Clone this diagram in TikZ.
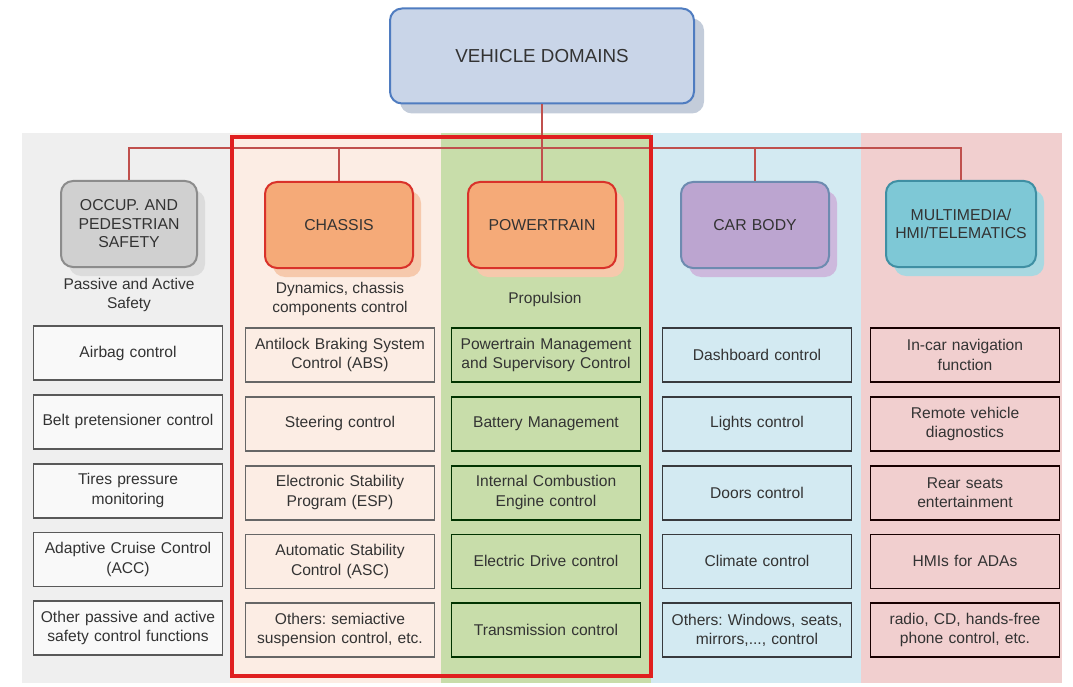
\documentclass[tikz,border=0pt]{standalone}
\usepackage{fontspec}
\setmainfont{Liberation Sans}
\frenchspacing
\usetikzlibrary{positioning, shadows}
\definecolor{ink}{HTML}{333333}
\definecolor{rootfill}{HTML}{C9D5E8}
\definecolor{rootdraw}{HTML}{4F7CC0}
\definecolor{rootshade}{HTML}{C3CCDA}
\definecolor{linkred}{HTML}{C0504D}
\definecolor{framered}{HTML}{E01F1F}
\definecolor{bgsafe}{HTML}{EFEFEF}
\definecolor{bgchas}{HTML}{FCEDE4}
\definecolor{bgpwt}{HTML}{C8DDAA}
\definecolor{bgbody}{HTML}{D3EAF2}
\definecolor{bgmm}{HTML}{F1CFCF}
\definecolor{grayfill}{HTML}{D0D0D0}
\definecolor{graydraw}{HTML}{8C8C8C}
\definecolor{grayshade}{HTML}{DCDCDC}
\definecolor{orgfill}{HTML}{F5AA78}
\definecolor{orgdraw}{HTML}{D9322A}
\definecolor{orgshade}{HTML}{F6C9AC}
\definecolor{purfill}{HTML}{BCA5D0}
\definecolor{purdraw}{HTML}{6D8BB0}
\definecolor{purshade}{HTML}{CDB9DD}
\definecolor{tealfill}{HTML}{7EC8D6}
\definecolor{tealdraw}{HTML}{3F8FA3}
\definecolor{tealshade}{HTML}{A9D8E1}
\tikzset{
  root/.style   ={draw=rootdraw, line width=2pt, rounded corners=12pt, fill=rootfill,
                  minimum width=304pt, minimum height=95pt, text=ink,
                  font=\fontsize{18.8}{22}\selectfont,
                  general shadow={fill=rootshade, shadow xshift=10pt, shadow yshift=-10pt}},
  head/.style   ={line width=2pt, rounded corners=12pt, minimum width=148pt,
                  minimum height=86pt, text width=144pt, align=center, text=ink,
                  inner sep=2pt, font=\fontsize{15.8}{18.5}\selectfont},
  headg/.style  ={head, fill=grayfill, draw=graydraw, minimum width=136pt, text width=132pt,
                  general shadow={fill=grayshade, shadow xshift=8pt, shadow yshift=-9pt}},
  heado/.style  ={head, fill=orgfill, draw=orgdraw,
                  general shadow={fill=orgshade, shadow xshift=8pt, shadow yshift=-9pt}},
  headp/.style  ={head, fill=purfill, draw=purdraw, minimum width=143pt,
                  general shadow={fill=purshade, shadow xshift=8pt, shadow yshift=-9pt}},
  headt/.style  ={head, fill=tealfill, draw=tealdraw, minimum width=150pt,
                  general shadow={fill=tealshade, shadow xshift=8pt, shadow yshift=-9pt}},
  sub/.style    ={align=center, text=ink, font=\fontsize{15.5}{18.5}\selectfont},
  item/.style   ={draw, line width=1.8pt, minimum width=189pt, minimum height=54pt,
                  text width=185pt, align=center, inner sep=2pt, text=ink,
                  font=\fontsize{15.6}{19.5}\selectfont},
  itms/.style   ={item, fill=white!60!bgsafe, draw=black!65},
  itmc/.style   ={item, fill=bgchas, draw=black!60},
  itmp/.style   ={item, fill=bgpwt, draw=black!50!green!40!black},
  itmb/.style   ={item, fill=bgbody, draw=black!55!cyan!30!black},
  itmm/.style   ={item, fill=bgmm, draw=black!55!red!20!black},
  link/.style   ={draw=linkred, line width=2pt}
}

\begin{document}
\begin{tikzpicture}[x=1pt, y=-1pt, node distance=13pt]
  \useasboundingbox (0,0) rectangle (1073,687);

  % column bands
  \fill[bgsafe] (22,133) rectangle (230,683);
  \fill[bgchas] (230,133) rectangle (441,683);
  \fill[bgpwt]  (441,133) rectangle (651,683);
  \fill[bgbody] (651,133) rectangle (861,683);
  \fill[bgmm]   (861,133) rectangle (1062,683);

  \node[root] (top) at (542,56) {VEHICLE DOMAINS};

  \node[headg] (occ) at (129,224) {OCCUP. AND\\PEDESTRIAN\\SAFETY};
  \node[heado] (chs) at (339,225) {CHASSIS};
  \node[heado] (pwt) at (542,225) {POWERTRAIN};
  \node[headp] (car) at (755,225) {CAR BODY};
  \node[headt] (mm)  at (961,224) {MULTIMEDIA/\\HMI/TELEMATICS};

  \node[sub] (occsub) at (129,295) {Passive and Active\\Safety};
  \node[sub] (chssub) at (340,299) {Dynamics, chassis\\components control};
  \node[sub] (pwtsub) at (545,299) {Propulsion};

  % safety
  \node[itms] (s1) at (128,353) {Airbag control};
  \node[itms, below=of s1] (s2) {Belt pretensioner control};
  \node[itms, below=of s2] (s3) {Tires pressure\\monitoring};
  \node[itms, below=of s3] (s4) {Adaptive Cruise Control\\(ACC)};
  \node[itms, below=of s4] (s5) {Other passive and active\\safety control functions};

  % chassis
  \node[itmc] (c1) at (340,355) {Antilock Braking System\\Control (ABS)};
  \node[itmc, below=of c1] (c2) {Steering control};
  \node[itmc, below=of c2] (c3) {Electronic Stability\\Program (ESP)};
  \node[itmc, below=of c3] (c4) {Automatic Stability\\Control (ASC)};
  \node[itmc, below=of c4] (c5) {Others: semiactive\\suspension control, etc.};

  % powertrain
  \node[itmp] (p1) at (546,355) {Powertrain Management\\and Supervisory Control};
  \node[itmp, below=of p1] (p2) {Battery Management};
  \node[itmp, below=of p2] (p3) {Internal Combustion\\Engine control};
  \node[itmp, below=of p3] (p4) {Electric Drive control};
  \node[itmp, below=of p4] (p5) {Transmission control};

  % car body
  \node[itmb] (b1) at (757,355) {Dashboard control};
  \node[itmb, below=of b1] (b2) {Lights control};
  \node[itmb, below=of b2] (b3) {Doors control};
  \node[itmb, below=of b3] (b4) {Climate control};
  \node[itmb, below=of b4] (b5) {Others: Windows, seats,\\mirrors,..., control};

  % multimedia
  \node[itmm] (m1) at (965,355) {In-car navigation\\function};
  \node[itmm, below=of m1] (m2) {Remote vehicle\\diagnostics};
  \node[itmm, below=of m2] (m3) {Rear seats\\entertainment};
  \node[itmm, below=of m3] (m4) {HMIs for ADAs};
  \node[itmm, below=of m4] (m5) {radio, CD, hands-free\\phone control, etc.};

  % tree links
  \coordinate (bus) at (542,148);
  \draw[link] (occ.north) |- (bus) -| (mm.north);
  \draw[link] (chs.north) |- (bus);
  \draw[link] (car.north) |- (bus);
  \draw[link] (top.south) -- (pwt.north);

  % highlight frame
  \draw[framered, line width=3.5pt] (232,137) rectangle (651,676);
\end{tikzpicture}
\end{document}
